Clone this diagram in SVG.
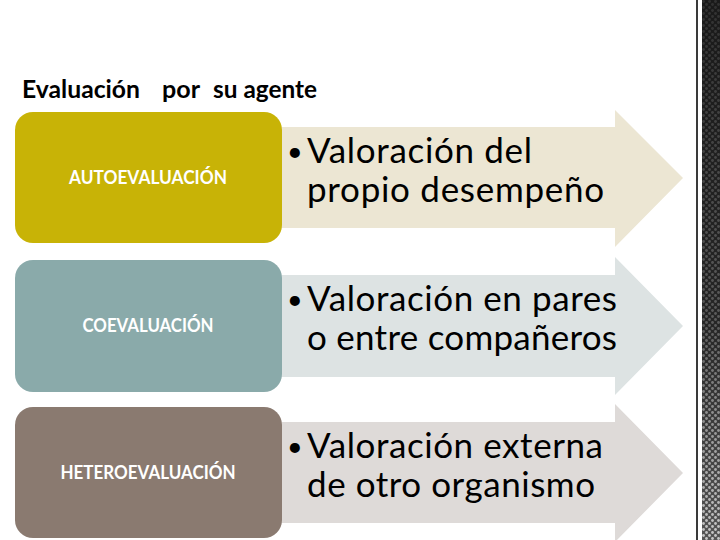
<svg xmlns="http://www.w3.org/2000/svg" width="720" height="540" viewBox="0 0 720 540">
  <style>
    .title { font-family: Lato, "Open Sans", "Liberation Sans", sans-serif; font-weight: bold; font-size: 25px; fill: #000; }
    .lbl { font-family: Lato, "Open Sans", "Liberation Sans", sans-serif; font-weight: bold; font-size: 18px; fill: #fff; text-anchor: middle; }
    .desc { font-family: Lato, "Open Sans", "Liberation Sans", sans-serif; font-size: 35px; fill: #000; }
    .bul { font-family: Lato, "Open Sans", "Liberation Sans", sans-serif; font-size: 27px; fill: #000; }
  </style>
  <defs>
    <linearGradient id="stripBase" x1="0" y1="0" x2="0" y2="1">
      <stop offset="0" stop-color="#1a1a1a"/>
      <stop offset="0.6" stop-color="#262626"/>
      <stop offset="1" stop-color="#555"/>
    </linearGradient>
    <linearGradient id="dotFade" x1="0" y1="0" x2="0" y2="1">
      <stop offset="0" stop-color="#fff" stop-opacity="0.12"/>
      <stop offset="0.6" stop-color="#fff" stop-opacity="0.3"/>
      <stop offset="1" stop-color="#fff" stop-opacity="0.85"/>
    </linearGradient>
    <mask id="fadeMask">
      <rect x="700" y="0" width="20" height="540" fill="url(#dotFade)"/>
    </mask>
    <pattern id="dots" x="702" y="0" width="6" height="6" patternUnits="userSpaceOnUse">
      <circle cx="1.5" cy="1.5" r="1.4" fill="#ddd"/>
      <circle cx="4.5" cy="4.5" r="1.4" fill="#ddd"/>
    </pattern>
  </defs>
  <rect width="720" height="540" fill="#fff"/>

  <!-- decorative right strip -->
  <g id="strip">
    <rect x="696" y="0" width="2" height="540" fill="#3a3a3a"/>
    <rect x="702" y="0" width="18" height="540" fill="url(#stripBase)"/>
    <rect x="702" y="0" width="18" height="540" fill="url(#dots)" mask="url(#fadeMask)"/>
  </g>

  <text class="title" y="98"><tspan x="22" textLength="118" lengthAdjust="spacingAndGlyphs">Evaluación</tspan><tspan x="162" textLength="38" lengthAdjust="spacingAndGlyphs">por</tspan><tspan x="213" textLength="104" lengthAdjust="spacingAndGlyphs">su agente</tspan></text>

  <g id="connectors">
    <path id="arrow1" d="M270,127 H615 V110 L683,178 L615,247 V228 H270 Z" fill="#ECE6D3"/>
    <path id="arrow2" d="M270,275 H615 V257 L683,326 L615,395 V377 H270 Z" fill="#DDE3E3"/>
    <path id="arrow3" d="M270,422 H615 V404 L683,473 L615,542 V523 H270 Z" fill="#DEDAD8"/>
  </g>

  <g id="node-auto">
    <rect x="15" y="112" width="267" height="131" rx="18" fill="#C8B306"/>
    <text class="lbl" x="148" y="184" textLength="158" lengthAdjust="spacingAndGlyphs">AUTOEVALUACIÓN</text>
  </g>
  <g id="node-co">
    <rect x="15" y="260" width="267" height="132" rx="18" fill="#8AAAAA"/>
    <text class="lbl" x="148" y="332" textLength="131" lengthAdjust="spacingAndGlyphs">COEVALUACIÓN</text>
  </g>
  <g id="node-hetero">
    <rect x="15" y="407" width="267" height="131" rx="18" fill="#8A7A70"/>
    <text class="lbl" x="148" y="479" textLength="175" lengthAdjust="spacingAndGlyphs">HETEROEVALUACIÓN</text>
  </g>

  <g id="desc-auto">
    <text class="bul" x="287" y="161">•</text>
    <text class="desc" x="307" y="163" textLength="225">Valoración del</text>
    <text class="desc" x="307" y="202" textLength="297">propio desempeño</text>
  </g>
  <g id="desc-co">
    <text class="bul" x="287" y="309">•</text>
    <text class="desc" x="307" y="311" textLength="310">Valoración en pares</text>
    <text class="desc" x="307" y="350" textLength="310">o entre compañeros</text>
  </g>
  <g id="desc-hetero">
    <text class="bul" x="287" y="456">•</text>
    <text class="desc" x="307" y="458" textLength="296">Valoración externa</text>
    <text class="desc" x="307" y="497" textLength="288">de otro organismo</text>
  </g>
</svg>
